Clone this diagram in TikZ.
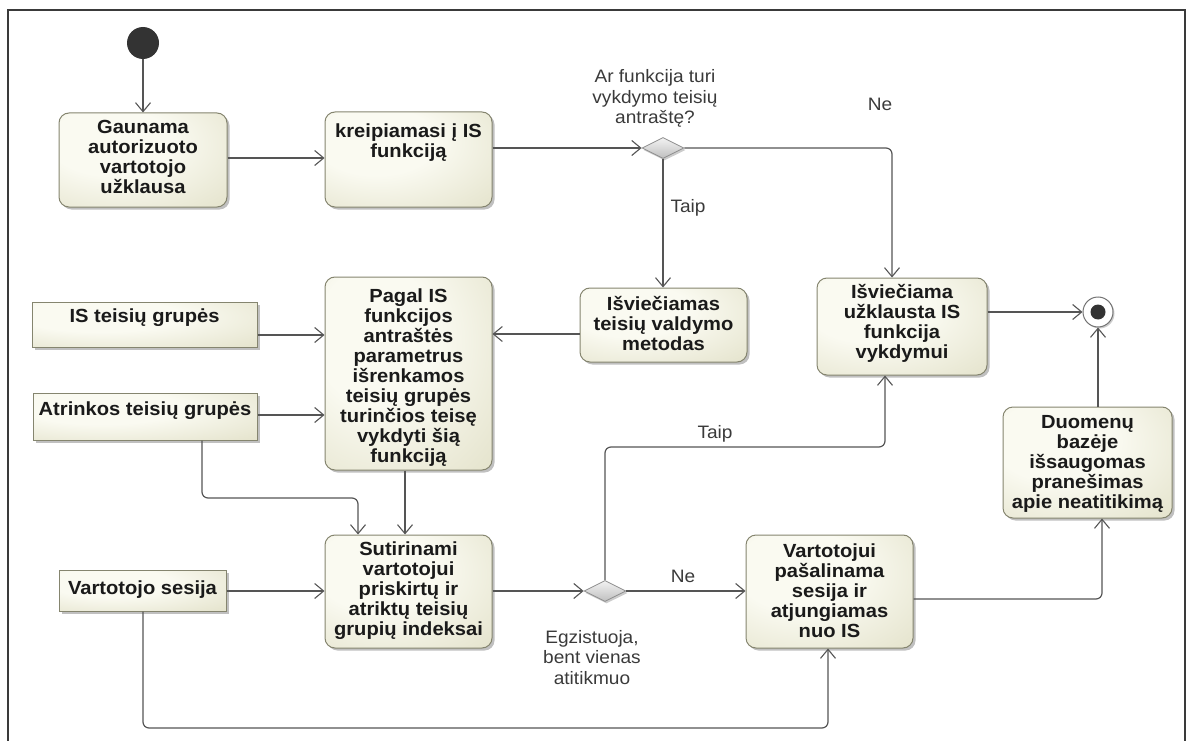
\documentclass[tikz,border=0pt]{standalone}
\usepackage{fontspec}
\setmainfont{Liberation Sans}
\newfontfamily\widesans[FakeStretch=1.06]{Liberation Sans}
\usetikzlibrary{arrows.meta,shapes.geometric,shadows}
\definecolor{boxin}{HTML}{FAFAF1}
\definecolor{boxout}{HTML}{D6D4B4}
\definecolor{boxborder}{HTML}{85856F}
\definecolor{edgecol}{HTML}{555555}
\definecolor{txtcol}{HTML}{1A1A1A}
\definecolor{lblcol}{HTML}{3A3A3A}
\definecolor{framecol}{HTML}{3A3A3A}
\pgfdeclareradialshading{boxshade}{\pgfpoint{-12bp}{12bp}}{color(0bp)=(boxin); color(18bp)=(boxin); color(62bp)=(boxout); color(95bp)=(boxout)}
\newcommand\boxfont{\widesans\fontsize{19pt}{20pt}\selectfont\bfseries}
\newcommand\lblfont{\widesans\fontsize{18pt}{20.5pt}\selectfont}
\tikzset{
  conn/.style={draw=edgecol, line width=1.2pt, rounded corners=6pt,
    -{Straight Barb[length=9pt,width=15pt,line width=1.1pt]}},
  actbox/.style={rectangle, rounded corners=10pt, draw=boxborder, line width=1pt,
    shading=boxshade, inner sep=0pt,
    drop shadow={shadow xshift=2.5pt, shadow yshift=-2.5pt, fill=black!45, opacity=0.55}},
  objbox/.style={rectangle, draw=boxborder, line width=1pt,
    shading=boxshade, inner sep=0pt,
    drop shadow={shadow xshift=2.5pt, shadow yshift=-2.5pt, fill=black!45, opacity=0.55}},
  dec/.style={diamond, draw=black!45, line width=0.8pt, top color=black!5, bottom color=black!25,
    minimum width=42pt, minimum height=21pt, inner sep=0pt,
    drop shadow={shadow xshift=1.5pt, shadow yshift=-2pt, fill=black!40, opacity=0.5}},
  startnode/.style={circle, fill=black!80, minimum size=32pt, inner sep=0pt},
  finnode/.style={circle, draw=black!55, line width=1pt, fill=white, minimum size=30pt, inner sep=0pt,
    drop shadow={shadow xshift=1.5pt, shadow yshift=-1.5pt, fill=black!40, opacity=0.5}},
  findot/.style={circle, fill=black!80, minimum size=15pt, inner sep=0pt},
  boxtext/.style={inner sep=0pt, font=\boxfont, text=txtcol},
  lbl/.style={inner sep=0pt, font=\lblfont, text=lblcol},
}
\begin{document}
\begin{tikzpicture}[x=1pt,y=-1pt]
\useasboundingbox (0,0) rectangle (1186,741);
% frame
\draw[framecol, line width=2pt] (8,745) -- (8,10) -- (1185,10) -- (1185,745);

% start / final
\node[startnode] (start) at (143,43) {};
\node[finnode] (fin) at (1098,312) {};
\node[findot] (findot) at (fin.center) {};

% action boxes
\node[actbox, minimum width=168pt, minimum height=94pt] (gaun) at (143,160) {};
\node[actbox, minimum width=167pt, minimum height=95pt] (kreip) at (408.5,159.5) {};
\node[actbox, minimum width=167pt, minimum height=193pt] (pagal) at (408.5,373.5) {};
\node[actbox, minimum width=167pt, minimum height=74pt] (isvm) at (663.5,325) {};
\node[actbox, minimum width=170pt, minimum height=97pt] (isvf) at (902,326.5) {};
\node[actbox, minimum width=167pt, minimum height=113pt] (sut) at (408.5,591.5) {};
\node[actbox, minimum width=167pt, minimum height=113pt] (vart) at (829.5,591.5) {};
\node[actbox, minimum width=169pt, minimum height=111pt] (duom) at (1087.5,462.5) {};

% object nodes
\node[objbox, minimum width=225pt, minimum height=45pt] (isg) at (144.5,324.5) {};
\node[objbox, minimum width=224pt, minimum height=47pt] (atr) at (145,416.5) {};
\node[objbox, minimum width=167pt, minimum height=41pt] (ses) at (142.5,590.5) {};

% decisions
\node[dec] (d1) at (663,148) {};
\node[dec] (d2) at (605,591) {};

% box texts
\node[boxtext, anchor=base] (gaun-t) at (143,134) {\parbox[t]{166pt}{\centering Gaunama\\autorizuoto\\vartotojo\\užklausa}};
\node[boxtext, anchor=base] (kreip-t) at (408.5,138) {\parbox[t]{166pt}{\centering kreipiamasi į IS\\funkciją}};
\node[boxtext, anchor=base] (pagal-t) at (408.5,302) {\parbox[t]{166pt}{\centering Pagal IS\\funkcijos\\antraštės\\parametrus\\išrenkamos\\teisių grupės\\turinčios teisę\\vykdyti šią\\funkciją}};
\node[boxtext, anchor=base] (isvm-t) at (663.5,310) {\parbox[t]{166pt}{\centering Išviečiamas\\teisių valdymo\\metodas}};
\node[boxtext, anchor=base] (isvf-t) at (902,298) {\parbox[t]{168pt}{\centering Išviečiama\\užklausta IS\\funkcija\\vykdymui}};
\node[boxtext, anchor=base] (sut-t) at (408.5,555) {\parbox[t]{166pt}{\centering Sutirinami\\vartotojui\\priskirtų ir\\atriktų teisių\\grupių indeksai}};
\node[boxtext, anchor=base] (vart-t) at (829.5,557) {\parbox[t]{166pt}{\centering Vartotojui\\pašalinama\\sesija ir\\atjungiamas\\nuo IS}};
\node[boxtext, anchor=base] (duom-t) at (1087.5,428) {\parbox[t]{168pt}{\centering Duomenų\\bazėje\\išsaugomas\\pranešimas\\apie neatitikimą}};
\node[boxtext, anchor=base] (isg-t) at (144.5,322) {IS teisių grupės};
\node[boxtext, anchor=base] (atr-t) at (145,415) {Atrinkos teisių grupės};
\node[boxtext, anchor=base] (ses-t) at (142.5,594) {Vartotojo sesija};

% labels
\node[lbl, anchor=base] (q1) at (655,83) {\parbox[t]{160pt}{\centering Ar funkcija turi\\vykdymo teisių\\antraštę?}};
\node[lbl, anchor=base] (q2) at (592,643) {\parbox[t]{140pt}{\centering Egzistuoja,\\bent vienas\\atitikmuo}};
\node[lbl, anchor=base] (taip1) at (688,212) {Taip};
\node[lbl, anchor=base] (ne1) at (880,111) {Ne};
\node[lbl, anchor=base] (taip2) at (715,438) {Taip};
\node[lbl, anchor=base] (ne2) at (683,582) {Ne};

% connectors
\draw[conn] (start) -- (gaun);
\draw[conn] (gaun.east |- 0,158) -- (kreip.west |- 0,158);
\draw[conn] (kreip.east |- d1) -- (d1.west);
\draw[conn] (d1.south) -- (isvm.north -| d1);
\draw[conn] (d1.east) -| (isvf.north -| 892,0);
\draw[conn] (isvm.west |- 0,334) -- (pagal.east |- 0,334);
\draw[conn] (isg.east |- 0,335) -- (pagal.west |- 0,335);
\draw[conn] (atr.east |- 0,415) -- (pagal.west |- 0,415);
\draw[conn] (pagal.south -| 405,0) -- (sut.north -| 405,0);
\draw[conn] (atr.south -| 202,0) |- (358,498) -- (sut.north -| 358,0);
\draw[conn] (ses.east |- 0,591) -- (sut.west |- 0,591);
\draw[conn] (sut.east |- d2) -- (d2.west);
\draw[conn] (d2.east) -- (vart.west |- d2);
\draw[conn] (d2.north) |- (885,447) -- (isvf.south -| 885,0);
\draw[conn] (isvf.east |- fin) -- (fin.west);
\draw[conn] (vart.east |- 0,599) -| (duom.south -| 1102,0);
\draw[conn] (duom.north -| fin) -- (fin.south);
\draw[conn] (ses.south -| 143,0) |- (828,728) -- (vart.south -| 828,0);
\end{tikzpicture}
\end{document}
